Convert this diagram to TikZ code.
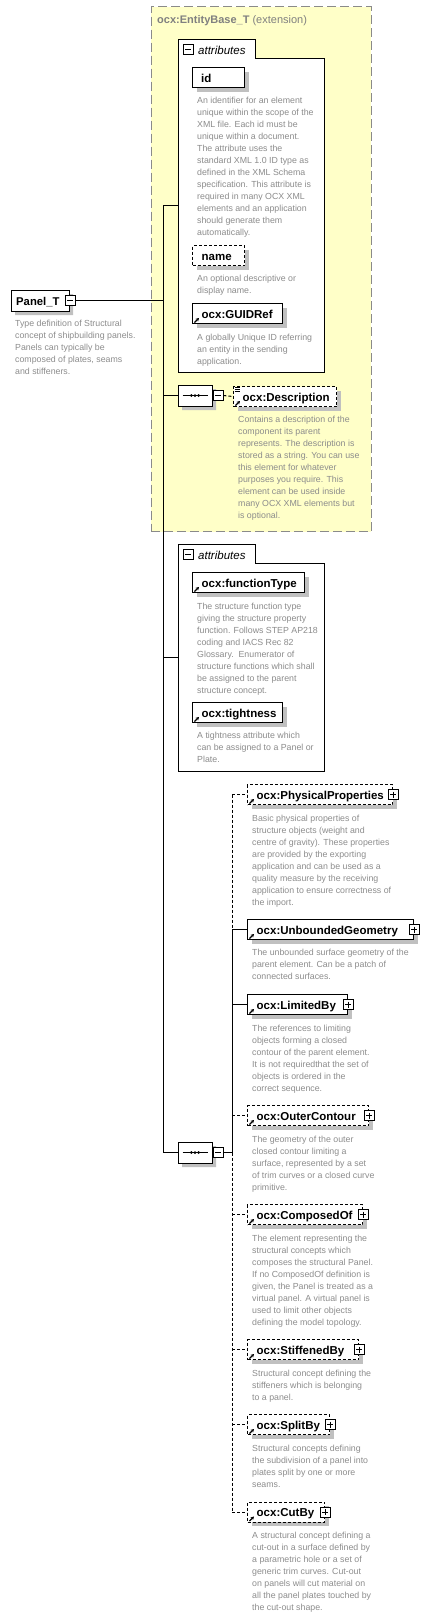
\documentclass[tikz,border=0pt]{standalone}
\usepackage{fontspec}
\setmainfont{Liberation Sans}
\usetikzlibrary{shapes.misc,shadows,arrows.meta}
\definecolor{ybg}{HTML}{FFFFC8}
\definecolor{ybd}{HTML}{8A8A8A}
\definecolor{tgray}{HTML}{808080}
\definecolor{dgray}{HTML}{8C8C8C}
\definecolor{sgray}{HTML}{C0C0C0}
\newcommand\dfont{\fontsize{8.8}{12}\selectfont}
\newcommand\lfont{\fontsize{11.5}{13}\selectfont\bfseries}
\tikzset{
  shd/.style={drop shadow={shadow xshift=4pt,shadow yshift=-4pt,fill=sgray,opacity=1}},
  ebox/.style={shape=rectangle,draw,line width=1pt,fill=white,anchor=north west,inner sep=0pt,minimum height=20pt,shd},
  optbox/.style={ebox,dash pattern=on 3pt off 2pt},
  lbl/.style={anchor=base west,inner sep=0pt,font=\lfont},
  desc/.style={anchor=north west,inner sep=0pt,align=left,font=\dfont,text=dgray,yshift=6.4pt},
  conn/.style={line width=1pt},
  optconn/.style={line width=1pt,dash pattern=on 3pt off 2pt},
  minusbox/.style={draw,fill=white,line width=0.8pt,minimum width=10pt,minimum height=10pt,inner sep=0pt,
    path picture={\draw[line width=0.8pt] ([xshift=2pt]path picture bounding box.west) -- ([xshift=-2pt]path picture bounding box.east);}},
  plusbox/.style={draw,fill=white,line width=0.8pt,minimum width=10pt,minimum height=10pt,inner sep=0pt,
    path picture={\draw[line width=0.8pt] ([xshift=2pt]path picture bounding box.west) -- ([xshift=-2pt]path picture bounding box.east);
                  \draw[line width=0.8pt] ([yshift=-2pt]path picture bounding box.north) -- ([yshift=2pt]path picture bounding box.south);}},
  refarrow/.style={line width=1.1pt,-{Stealth[length=3.2pt,width=3.6pt]}},
  seqshape/.style={shape=chamfered rectangle,chamfered rectangle xsep=4pt,draw,line width=1pt,fill=white,
    minimum width=34pt,minimum height=21pt,inner sep=0pt,shd},
  attrhead/.style={anchor=base west,inner sep=0pt,font=\fontsize{11.5}{13}\selectfont\itshape},
}
\newcommand\refel[6]{%
  \node[#2, minimum width=#5pt] (#1) at (#3,#4) {};
  \draw[refarrow] ([shift={(2.5pt,1.5pt)}]#1.south west) -- ++(4.5pt,4.5pt);
  \node[lbl] (#1l) at ([xshift=9.5pt,yshift=-4.5pt]#1.west) {#6};
}
\begin{document}
\begin{tikzpicture}[x=1pt,y=-1pt]
\useasboundingbox (0,0) rectangle (443,1617);

% extension box
\node[draw=ybd, fill=ybg, dash pattern=on 9pt off 4pt, line width=1pt, anchor=north west,
      minimum width=220pt, minimum height=525pt, inner sep=0pt] (ext) at (150.5,6) {};
\node[anchor=base west, inner sep=0pt, text=tgray, font=\fontsize{11}{13}\selectfont] (extt) at (157,23.5)
  {\textbf{ocx:EntityBase\_T} (extension)};

% attributes 1
\node[anchor=north west, minimum width=146pt, minimum height=333pt, inner sep=0pt] (att1) at (178,39) {};
\draw[line width=1pt, fill=white] (att1.north west) -- ++(77pt,0pt) -- ++(0pt,-19pt) -| (att1.south east) -- (att1.south west) -- cycle;
\node[minusbox] (att1m) at (188,49.5) {};
\node[attrhead] (att1t) at (198,54) {attributes};

\node[ebox, minimum width=52pt] (id) at (192,67) {};
\node[lbl] (idl) at ([xshift=9pt,yshift=-4.5pt]id.west) {id};
\node[desc] (idd) at (197,103) {An identifier for an element\\unique within the scope of the\\XML file. Each id must be\\unique within a document.\\The attribute uses the\\standard XML 1.0 ID type as\\defined in the XML Schema\\specification. This attribute is\\required in many OCX XML\\elements and an application\\should generate them\\automatically.};

\node[optbox, minimum width=52pt] (nm) at (192,245) {};
\node[lbl] (nml) at ([xshift=9.5pt,yshift=-4.5pt]nm.west) {name};
\node[desc] (nmd) at (197,281.5) {An optional descriptive or\\display name.};

\refel{guid}{ebox}{192}{303}{90}{ocx:GUIDRef}
\node[desc] (guidd) at (197,340) {A globally Unique ID referring\\an entity in the sending\\application.};

% sequence 1
\node[seqshape] (seq1) at (195,395.5) {};
\draw[line width=1pt] ([xshift=5pt]seq1.west) -- ([xshift=-5pt]seq1.east);
\foreach \dx in {-3.6,0,3.6} \fill ([xshift=\dx pt]seq1.center) circle (1.5pt);
\node[minusbox] (seq1m) at (218,395.5) {};

\refel{descr}{optbox}{233}{386}{103}{ocx:Description}
\foreach \dy in {1.5,3.3,5.1} \draw[line width=0.7pt] ([shift={(1.5pt,-\dy pt)}]descr.north west) -- ++(5pt,0pt);
\node[desc] (descrd) at (238,422) {Contains a description of the\\component its parent\\represents. The description is\\stored as a string. You can use\\this element for whatever\\purposes you require. This\\element can be used inside\\many OCX XML elements but\\is optional.};

% attributes 2
\node[anchor=north west, minimum width=146pt, minimum height=227pt, inner sep=0pt] (att2) at (178,544) {};
\draw[line width=1pt, fill=white] (att2.north west) -- ++(77pt,0pt) -- ++(0pt,-19pt) -| (att2.south east) -- (att2.south west) -- cycle;
\node[minusbox] (att2m) at (188,554.5) {};
\node[attrhead] (att2t) at (198,559) {attributes};

\refel{ft}{ebox}{192}{572}{112}{ocx:functionType}
\node[desc] (ftd) at (197,609) {The structure function type\\giving the structure property\\function. Follows STEP AP218\\coding and IACS Rec 82\\Glossary.\ \ Enumerator of\\structure functions which shall\\be assigned to the parent\\structure concept.};

\refel{ti}{ebox}{192}{702}{90}{ocx:tightness}
\node[desc] (tid) at (197,738) {A tightness attribute which\\can be assigned to a Panel or\\Plate.};

% Panel_T
\node[shape=chamfered rectangle, chamfered rectangle corners={north west,south west}, chamfered rectangle xsep=4pt,
      draw, line width=1pt, fill=white, minimum width=58pt, minimum height=21pt, inner sep=0pt, shd] (panel) at (40,300.5) {};
\node[lbl, font=\fontsize{11.3}{13}\selectfont\bfseries] (panell) at (16,305.5) {Panel\_T};
\node[minusbox] (panelm) at (70,300.5) {};
\node[desc] (paneld) at (15,326.5) {Type definition of Structural\\concept of shipbuilding panels.\\Panels can typically be\\composed of plates, seams\\and stiffeners.};

% sequence 2
\node[seqshape] (seq2) at (195,1152.5) {};
\draw[line width=1pt] ([xshift=5pt]seq2.west) -- ([xshift=-5pt]seq2.east);
\foreach \dx in {-3.6,0,3.6} \fill ([xshift=\dx pt]seq2.center) circle (1.5pt);
\node[minusbox] (seq2m) at (218,1152.5) {};

% elements
\refel{pp}{optbox}{247}{784}{145}{ocx:PhysicalProperties}
\node[plusbox] (ppp) at (pp.east) {};
\node[desc] (ppd) at (252,821) {Basic physical properties of\\structure objects (weight and\\centre of gravity). These properties\\are provided by the exporting\\application and can be used as a\\quality measure by the receiving\\application to ensure correctness of\\the import.};

\refel{ug}{ebox}{247}{919}{166}{ocx:UnboundedGeometry}
\node[plusbox] (ugp) at (ug.east) {};
\node[desc] (ugd) at (252,955) {The unbounded surface geometry of the\\parent element. Can be a patch of\\connected surfaces.};

\refel{lb}{ebox}{247}{994}{100}{ocx:LimitedBy}
\node[plusbox] (lbp) at (lb.east) {};
\node[desc] (lbd) at (252,1031) {The references to limiting\\objects forming a closed\\contour of the parent element.\\It is not requiredthat the set of\\objects is ordered in the\\correct sequence.};

\refel{oc}{optbox}{247}{1105}{121}{ocx:OuterContour}
\node[plusbox] (ocp) at (oc.east) {};
\node[desc] (ocd) at (252,1142) {The geometry of the outer\\closed contour limiting a\\surface, represented by a set\\of trim curves or a closed curve\\primitive.};

\refel{co}{optbox}{247}{1204}{115}{ocx:ComposedOf}
\node[plusbox] (cop) at (co.east) {};
\node[desc] (cod) at (252,1241) {The element representing the\\structural concepts which\\composes the structural Panel.\\If no ComposedOf definition is\\given, the Panel is treated as a\\virtual panel. A virtual panel is\\used to limit other objects\\defining the model topology.};

\refel{sb}{optbox}{247}{1339}{111}{ocx:StiffenedBy}
\node[plusbox] (sbp) at (sb.east) {};
\node[desc] (sbd) at (252,1376) {Structural concept defining the\\stiffeners which is belonging\\to a panel.};

\refel{sp}{optbox}{247}{1414}{82}{ocx:SplitBy}
\node[plusbox] (spp) at (sp.east) {};
\node[desc] (spd) at (252,1451) {Structural concepts defining\\the subdivision of a panel into\\plates split by one or more\\seams.};

\refel{cb}{optbox}{247}{1501.5}{77}{ocx:CutBy}
\node[plusbox] (cbp) at (cb.east) {};
\node[desc] (cbd) at (252,1538) {A structural concept defining a\\cut-out in a surface defined by\\a parametric hole or a set of\\generic trim curves. Cut-out\\on panels will cut material on\\all the panel plates touched by\\the cut-out shape.};

% connectors
\coordinate (bx) at (163,0);
\coordinate (cx) at (232,0);
\draw[conn] (panelm.east) -- (panelm.east -| bx);
\draw[conn] (att1.west -| bx) -- (seq2.west -| bx);
\draw[conn] (att1.west -| bx) -- (att1.west);
\draw[conn] (seq1.west -| bx) -- (seq1.west);
\draw[conn] (att2.west -| bx) -- (att2.west);
\draw[conn] (seq2.west -| bx) -- (seq2.west);
\draw[optconn] (seq1m.east) -- (descr.west);
\draw[conn] (seq2m.east) -- (seq2m.east -| cx);
\draw[optconn] (pp.west -| cx) -- (ug.west -| cx);
\draw[conn] (ug.west -| cx) -- (seq2m.east -| cx);
\draw[optconn] (seq2m.east -| cx) -- (cb.west -| cx);
\draw[optconn] (pp.west -| cx) -- (pp.west);
\draw[conn] (ug.west -| cx) -- (ug.west);
\draw[conn] (lb.west -| cx) -- (lb.west);
\draw[optconn] (oc.west -| cx) -- (oc.west);
\draw[optconn] (co.west -| cx) -- (co.west);
\draw[optconn] (sb.west -| cx) -- (sb.west);
\draw[optconn] (sp.west -| cx) -- (sp.west);
\draw[optconn] (cb.west -| cx) -- (cb.west);
\end{tikzpicture}
\end{document}
